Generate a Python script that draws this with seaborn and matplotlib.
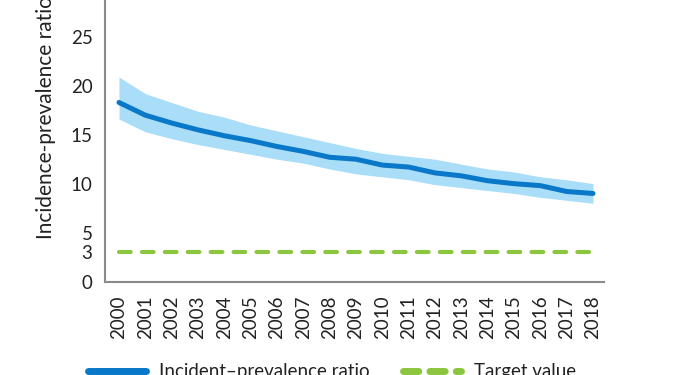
import matplotlib
matplotlib.use("Agg")
import matplotlib.pyplot as plt
import seaborn as sns
import pandas as pd

years = list(range(2000, 2019))
ratio = [18.3, 17.0, 16.2, 15.5, 14.9, 14.4, 13.8, 13.3, 12.7, 12.5,
         11.9, 11.7, 11.1, 10.8, 10.3, 10.0, 9.8, 9.2, 9.0]
lower = [16.6, 15.3, 14.6, 14.0, 13.5, 13.0, 12.5, 12.1, 11.5, 11.0,
         10.7, 10.4, 9.9, 9.6, 9.3, 9.0, 8.6, 8.3, 8.0]
upper = [20.9, 19.2, 18.3, 17.4, 16.8, 16.0, 15.4, 14.8, 14.2, 13.6,
         13.1, 12.8, 12.5, 12.0, 11.5, 11.2, 10.7, 10.4, 10.0]
target = [3] * len(years)
yticks = [0, 3, 5, 10, 15, 20, 25]

sns.set_theme(style="white")
plt.rcParams['font.family'] = ['Lato', 'DejaVu Sans']

df = pd.DataFrame({"year": years, "ratio": ratio, "lower": lower,
                   "upper": upper, "target": target})

fig = plt.figure(figsize=(6.75, 3.75), dpi=100)
ax = fig.add_axes([0.1556, 0.2493, 0.7393, 0.7827])

blue = "#0a78c8"
band = "#a9ddf8"
green = "#8cc63f"
txt = "#222222"

ax.fill_between(df["year"], df["lower"], df["upper"], color=band, lw=0, zorder=1)
sns.lineplot(data=df, x="year", y="ratio", ax=ax, color=blue, lw=3.6,
             label="Incident\u2013prevalence ratio", zorder=3,
             solid_capstyle="round")
sns.lineplot(data=df, x="year", y="target", ax=ax, color=green, lw=3.0,
             label="Target value", zorder=2)
tline = ax.get_lines()[-1]
tline.set_dashes((2.8, 2.7))
tline.set_dash_capstyle("round")

ax.set_xlim(1999.47, 2018.42)
ax.set_ylim(0, 30)
ax.set_yticks(yticks)
ax.set_xticks(years)
ax.set_xticklabels([str(y) for y in years], rotation=90)
ax.tick_params(axis="both", length=0, labelsize=13.5, colors=txt)
ax.tick_params(axis="y", pad=9.0)
ax.tick_params(axis="x", pad=10.0)

for s in ["top", "right"]:
    ax.spines[s].set_visible(False)
for s in ["left", "bottom"]:
    ax.spines[s].set_color("#8a8a8a")
    ax.spines[s].set_linewidth(1.5)

ax.set_xlabel("")
ax.set_ylabel("Incidence-prevalence ratio", fontsize=15, color=txt)
ax.yaxis.set_label_coords(-0.098, 0.56)

handles, labels = ax.get_legend_handles_labels()
ax.get_legend().remove()
leg = fig.legend(handles, labels, loc="center", bbox_to_anchor=(0.492, 0.008),
                 ncol=2, frameon=False, fontsize=13.5, handlelength=3.1,
                 handletextpad=0.7, columnspacing=1.8)
for t in leg.get_texts():
    t.set_color(txt)
lh = leg.legend_handles
lh[0].set_linewidth(5)
lh[1].set_linewidth(5)
lh[1].set_dashes((2.2, 1.6))

fig.savefig("out.png", dpi=100)
